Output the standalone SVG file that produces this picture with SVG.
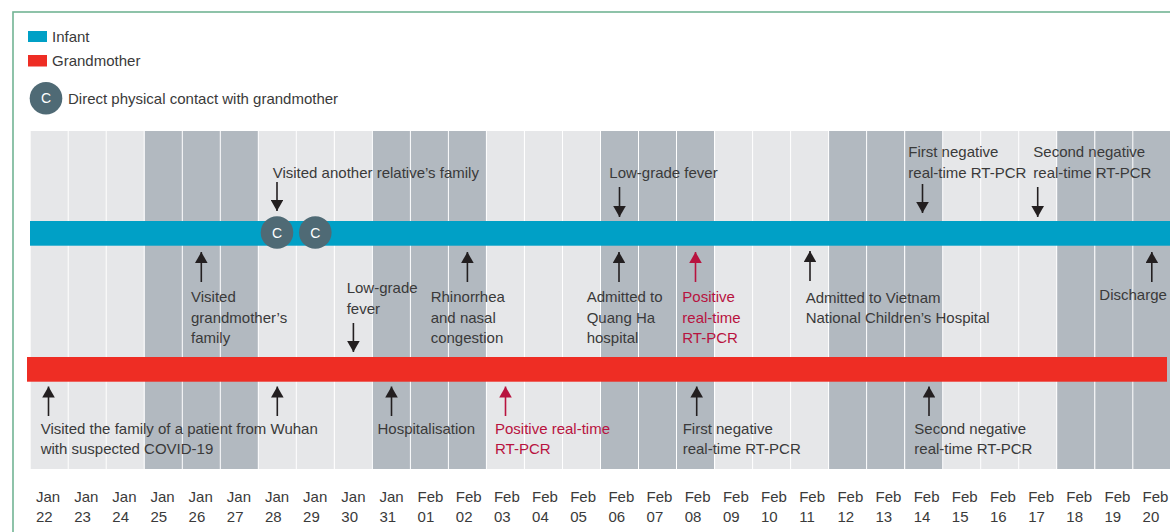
<svg xmlns="http://www.w3.org/2000/svg" width="1170" height="532" viewBox="0 0 1170 532">
<style>
text{font-family:"Liberation Sans",Arial,sans-serif;font-size:15px;fill:#3a3a3a}
.red{fill:#b8133f}
.c{fill:#ffffff;font-size:14px;text-anchor:middle}
.lt{fill:#e6e7e9}
.dk{fill:#b2b9c0}
.arr{stroke:#231f20;stroke-width:1.6;fill:none;marker-end:url(#ah)}
.arr-r{stroke:#b8133f;stroke-width:1.6;fill:none;marker-end:url(#ahr)}
.cc{fill:#4f6a75}
</style>
<defs>
<marker id="ah" viewBox="0 0 11 12.6" refX="11" refY="6.3" markerWidth="11" markerHeight="12.6" markerUnits="userSpaceOnUse" orient="auto"><path d="M0,0 L11,6.3 L0,12.6 z" fill="#231f20"/></marker>
<marker id="ahr" viewBox="0 0 11 12.6" refX="11" refY="6.3" markerWidth="11" markerHeight="12.6" markerUnits="userSpaceOnUse" orient="auto"><path d="M0,0 L11,6.3 L0,12.6 z" fill="#b8133f"/></marker>
</defs>
<rect x="0" y="0" width="1170" height="532" fill="#ffffff"/>
<rect x="13" y="12" width="1200" height="560" fill="none" stroke="#72b494" stroke-width="1.6"/>

<g id="legend">
<rect x="28" y="31" width="19" height="11" fill="#00a0c6"/>
<text x="52" y="41.5">Infant</text>
<rect x="28" y="55" width="19" height="11.5" fill="#ee2d24"/>
<text x="52" y="65.7">Grandmother</text>
<circle cx="46" cy="98.3" r="16.3" class="cc"/>
<text x="46" y="103.3" class="c">C</text>
<text x="68" y="104">Direct physical contact with grandmother</text>
</g>

<g id="columns">
<rect class="lt" x="30.7" y="131" width="37" height="338"/>
<rect class="lt" x="68.7" y="131" width="37" height="338"/>
<rect class="lt" x="106.7" y="131" width="37" height="338"/>
<rect class="dk" x="144.8" y="131" width="37" height="338"/>
<rect class="dk" x="182.8" y="131" width="37" height="338"/>
<rect class="dk" x="220.8" y="131" width="37" height="338"/>
<rect class="lt" x="258.8" y="131" width="37" height="338"/>
<rect class="lt" x="296.8" y="131" width="37" height="338"/>
<rect class="lt" x="334.9" y="131" width="37" height="338"/>
<rect class="dk" x="372.9" y="131" width="37" height="338"/>
<rect class="dk" x="410.9" y="131" width="37" height="338"/>
<rect class="dk" x="448.9" y="131" width="37" height="338"/>
<rect class="lt" x="486.9" y="131" width="37" height="338"/>
<rect class="lt" x="525.0" y="131" width="37" height="338"/>
<rect class="lt" x="563.0" y="131" width="37" height="338"/>
<rect class="dk" x="601.0" y="131" width="37" height="338"/>
<rect class="dk" x="639.0" y="131" width="37" height="338"/>
<rect class="dk" x="677.0" y="131" width="37" height="338"/>
<rect class="lt" x="715.1" y="131" width="37" height="338"/>
<rect class="lt" x="753.1" y="131" width="37" height="338"/>
<rect class="lt" x="791.1" y="131" width="37" height="338"/>
<rect class="dk" x="829.1" y="131" width="37" height="338"/>
<rect class="dk" x="867.1" y="131" width="37" height="338"/>
<rect class="dk" x="905.2" y="131" width="37" height="338"/>
<rect class="lt" x="943.2" y="131" width="37" height="338"/>
<rect class="lt" x="981.2" y="131" width="37" height="338"/>
<rect class="lt" x="1019.2" y="131" width="37" height="338"/>
<rect class="dk" x="1057.2" y="131" width="37" height="338"/>
<rect class="dk" x="1095.3" y="131" width="37" height="338"/>
<rect class="dk" x="1133.3" y="131" width="37" height="338"/>
</g>

<g id="infant-bar">
<rect x="30" y="221" width="1140" height="24.7" fill="#00a0c6"/>
</g>
<g id="grandmother-bar">
<rect x="27" y="357" width="1140" height="24.7" fill="#ee2d24"/>
</g>

<g id="contact-1">
<circle cx="277" cy="232.5" r="16.3" class="cc"/>
<text x="277" y="237.5" class="c">C</text>
</g>
<g id="contact-2">
<circle cx="315.3" cy="232.5" r="16.3" class="cc"/>
<text x="315.3" y="237.5" class="c">C</text>
</g>

<g id="connectors">
<line class="arr" x1="277" y1="182" x2="277" y2="211"/>
<line class="arr" x1="619.5" y1="187" x2="619.5" y2="217"/>
<line class="arr" x1="922.5" y1="184" x2="922.5" y2="213"/>
<line class="arr" x1="1037.7" y1="187" x2="1037.7" y2="217"/>
<line class="arr" x1="353.4" y1="323" x2="353.4" y2="352"/>
<line class="arr" x1="201.3" y1="282" x2="201.3" y2="252"/>
<line class="arr" x1="467.4" y1="282" x2="467.4" y2="252"/>
<line class="arr" x1="619" y1="282" x2="619" y2="252"/>
<line class="arr-r" x1="695.5" y1="282" x2="695.5" y2="252"/>
<line class="arr" x1="810" y1="281" x2="810" y2="251"/>
<line class="arr" x1="1151.8" y1="282" x2="1151.8" y2="252"/>
<line class="arr" x1="48.5" y1="416" x2="48.5" y2="386.5"/>
<line class="arr" x1="277.3" y1="416" x2="277.3" y2="386.5"/>
<line class="arr" x1="391.5" y1="416" x2="391.5" y2="386.5"/>
<line class="arr-r" x1="505.5" y1="416" x2="505.5" y2="386.5"/>
<line class="arr" x1="696.7" y1="416" x2="696.7" y2="386.5"/>
<line class="arr" x1="929" y1="416" x2="929" y2="386.5"/>
</g>

<g id="event-visited-relative"><text x="272.7" y="177.5">Visited another relative’s family</text></g>
<g id="event-infant-fever"><text x="609.3" y="178">Low-grade fever</text></g>
<g id="event-infant-neg1"><text x="908.3" y="157">First negative</text><text x="908.3" y="178">real-time RT-PCR</text></g>
<g id="event-infant-neg2"><text x="1033.3" y="157">Second negative</text><text x="1033.3" y="178">real-time RT-PCR</text></g>

<g id="event-visited-grandmother"><text x="191" y="302">Visited</text><text x="191" y="322.5">grandmother’s</text><text x="191" y="343">family</text></g>
<g id="event-gm-fever"><text x="346.7" y="293.3">Low-grade</text><text x="346.7" y="313.5">fever</text></g>
<g id="event-rhinorrhea"><text x="430.7" y="302">Rhinorrhea</text><text x="430.7" y="322.5">and nasal</text><text x="430.7" y="343">congestion</text></g>
<g id="event-quangha"><text x="586.7" y="302">Admitted to</text><text x="586.7" y="322.5">Quang Ha</text><text x="586.7" y="343">hospital</text></g>
<g id="event-infant-pos"><text class="red" x="682.3" y="302">Positive</text><text class="red" x="682.3" y="322.5">real-time</text><text class="red" x="682.3" y="343">RT-PCR</text></g>
<g id="event-vnch"><text x="805.7" y="302.5">Admitted to Vietnam</text><text x="805.7" y="323">National Children’s Hospital</text></g>
<g id="event-discharge"><text x="1099.3" y="300">Discharge</text></g>

<g id="event-wuhan"><text x="40.7" y="434">Visited the family of a patient from Wuhan</text><text x="40.7" y="454">with suspected COVID-19</text></g>
<g id="event-hospitalisation"><text x="377.5" y="434">Hospitalisation</text></g>
<g id="event-gm-pos"><text class="red" x="495" y="434">Positive real-time</text><text class="red" x="495" y="454">RT-PCR</text></g>
<g id="event-gm-neg1"><text x="682.7" y="434">First negative</text><text x="682.7" y="454">real-time RT-PCR</text></g>
<g id="event-gm-neg2"><text x="914.3" y="434">Second negative</text><text x="914.3" y="454">real-time RT-PCR</text></g>

<g id="axis">
<text x="36" y="502">Jan</text><text x="36" y="522">22</text>
<text x="74.2" y="502">Jan</text><text x="74.2" y="522">23</text>
<text x="112.3" y="502">Jan</text><text x="112.3" y="522">24</text>
<text x="150.5" y="502">Jan</text><text x="150.5" y="522">25</text>
<text x="188.6" y="502">Jan</text><text x="188.6" y="522">26</text>
<text x="226.8" y="502">Jan</text><text x="226.8" y="522">27</text>
<text x="265" y="502">Jan</text><text x="265" y="522">28</text>
<text x="303.1" y="502">Jan</text><text x="303.1" y="522">29</text>
<text x="341.3" y="502">Jan</text><text x="341.3" y="522">30</text>
<text x="379.4" y="502">Jan</text><text x="379.4" y="522">31</text>
<text x="417.6" y="502">Feb</text><text x="417.6" y="522">01</text>
<text x="455.8" y="502">Feb</text><text x="455.8" y="522">02</text>
<text x="493.9" y="502">Feb</text><text x="493.9" y="522">03</text>
<text x="532.1" y="502">Feb</text><text x="532.1" y="522">04</text>
<text x="570.2" y="502">Feb</text><text x="570.2" y="522">05</text>
<text x="608.4" y="502">Feb</text><text x="608.4" y="522">06</text>
<text x="646.6" y="502">Feb</text><text x="646.6" y="522">07</text>
<text x="684.7" y="502">Feb</text><text x="684.7" y="522">08</text>
<text x="722.9" y="502">Feb</text><text x="722.9" y="522">09</text>
<text x="761" y="502">Feb</text><text x="761" y="522">10</text>
<text x="799.2" y="502">Feb</text><text x="799.2" y="522">11</text>
<text x="837.4" y="502">Feb</text><text x="837.4" y="522">12</text>
<text x="875.5" y="502">Feb</text><text x="875.5" y="522">13</text>
<text x="913.7" y="502">Feb</text><text x="913.7" y="522">14</text>
<text x="951.8" y="502">Feb</text><text x="951.8" y="522">15</text>
<text x="990" y="502">Feb</text><text x="990" y="522">16</text>
<text x="1028.2" y="502">Feb</text><text x="1028.2" y="522">17</text>
<text x="1066.3" y="502">Feb</text><text x="1066.3" y="522">18</text>
<text x="1104.5" y="502">Feb</text><text x="1104.5" y="522">19</text>
<text x="1142.6" y="502">Feb</text><text x="1142.6" y="522">20</text>
</g>
</svg>
